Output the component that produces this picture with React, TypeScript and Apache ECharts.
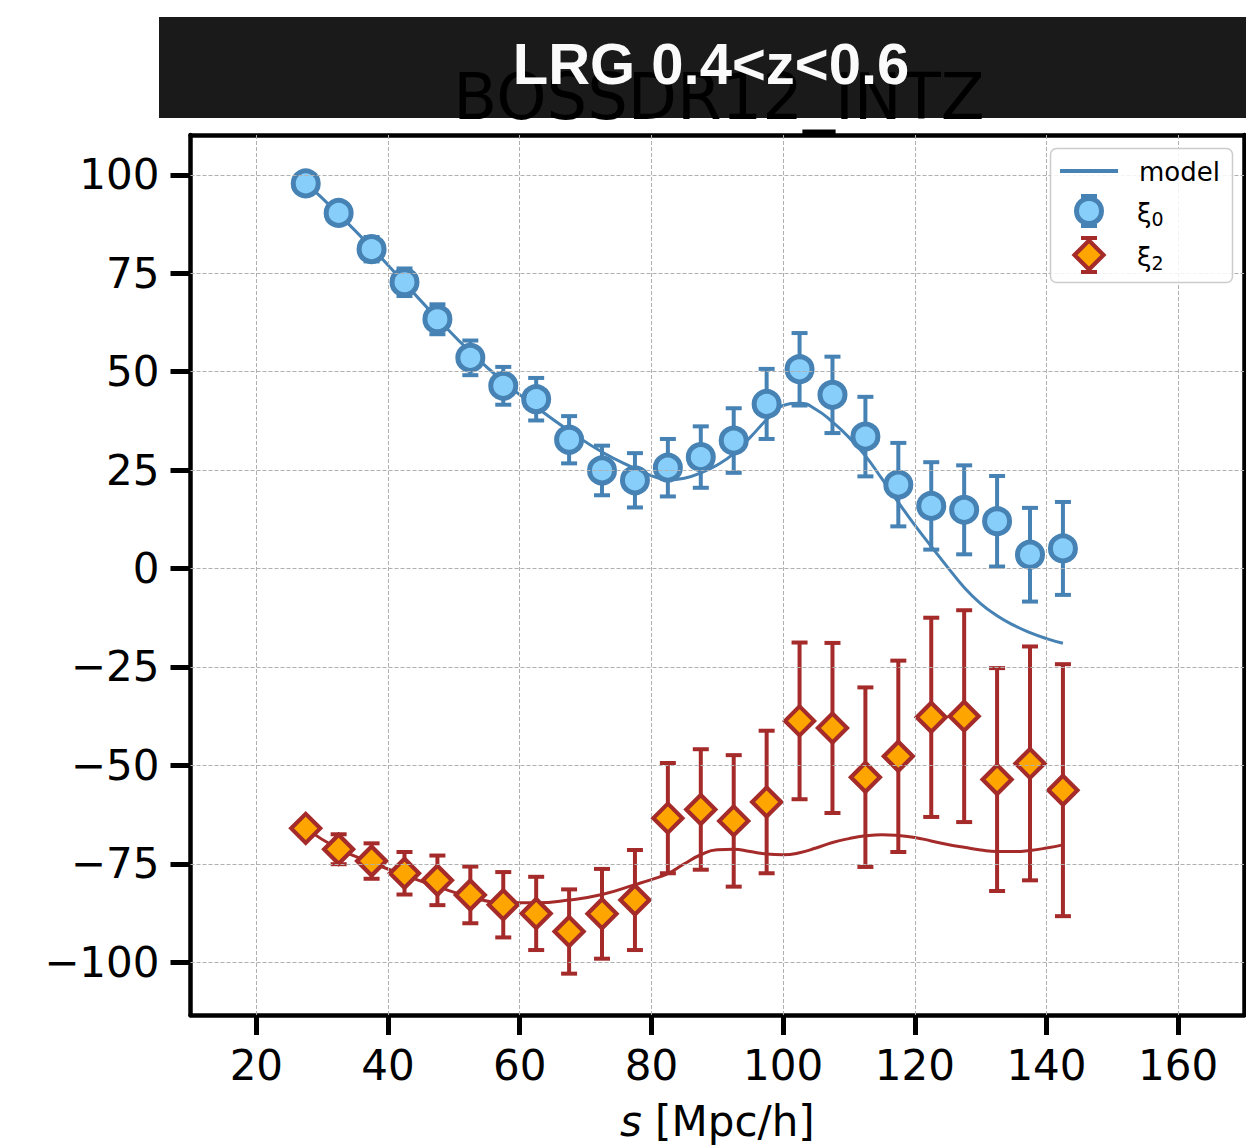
import React, { useEffect, useRef } from "react";
import * as echarts from "echarts";

// ---- data ----
const sVals = [27.5, 32.5, 37.5, 42.5, 47.5, 52.5, 57.5, 62.5, 67.5, 72.5, 77.5, 82.5, 87.5, 92.5, 97.5, 102.5, 107.5, 112.5, 117.5, 122.5, 127.5, 132.5, 137.5, 142.5];
const xi0 = [97.8, 90.3, 81.1, 72.7, 63.3, 53.5, 46.4, 43.0, 32.7, 24.9, 22.4, 25.6, 28.3, 32.5, 41.8, 50.6, 44.1, 33.5, 21.3, 15.9, 14.9, 12.0, 3.5, 5.1];
const xi0Err = [1.5, 2.3, 3.1, 3.5, 3.8, 4.4, 4.8, 5.4, 6.0, 6.3, 6.9, 7.3, 7.8, 8.2, 8.9, 9.2, 9.7, 10.1, 10.6, 11.1, 11.3, 11.5, 11.9, 11.8];
const xi2 = [-66.0, -71.3, -74.3, -77.4, -79.2, -82.9, -85.4, -87.6, -92.2, -87.7, -84.2, -63.4, -61.2, -64.1, -59.3, -38.7, -40.5, -53.0, -47.7, -37.8, -37.5, -53.6, -49.5, -56.3];
const xi2Err = [1.8, 3.8, 4.5, 5.4, 6.3, 7.2, 8.3, 9.3, 10.7, 11.4, 12.7, 14.0, 15.3, 16.7, 18.1, 19.9, 21.6, 22.8, 24.3, 25.3, 26.9, 28.3, 29.7, 32.0];

const model0S = [27.5, 32.5, 37.5, 42.5, 47.5, 52.5, 57.5, 62.5, 67.5, 72.5, 77.5, 80, 82.5, 85, 87.5, 90, 92.5, 95, 97.5, 100, 102.5, 105, 107.5, 110, 112.5, 115, 117.5, 120, 122.5, 125, 127.5, 130, 132.5, 135, 137.5, 140, 142.5];
const model0 = [98.0, 90.0, 81.5, 72.5, 63.5, 55.0, 47.5, 41.0, 35.0, 29.6, 25.4, 23.6, 22.5, 22.9, 24.3, 26.3, 29.2, 33.3, 37.8, 41.4, 42.0, 40.4, 37.2, 33.3, 28.6, 22.8, 16.8, 11.0, 5.6, 0.3, -4.8, -8.9, -12.0, -14.4, -16.3, -17.8, -19.0];
const model2S = [27.5, 32.5, 37.5, 42.5, 47.5, 52.5, 57.5, 62.5, 67.5, 72.5, 77.5, 80, 82.5, 85, 87.5, 90, 92.5, 95, 97.5, 100, 102.5, 105, 107.5, 110, 112.5, 115, 117.5, 120, 122.5, 125, 127.5, 130, 132.5, 135, 137.5, 140, 142.5];
const model2 = [-66.0, -71.2, -74.7, -77.9, -80.8, -83.4, -84.9, -84.9, -84.2, -82.8, -80.3, -79.0, -77.5, -75.0, -72.7, -71.4, -71.3, -71.9, -72.5, -72.7, -72.2, -71.0, -69.6, -68.6, -67.9, -67.6, -67.8, -68.3, -69.2, -70.1, -70.8, -71.5, -71.9, -71.9, -71.6, -71.0, -70.2];

const xTicks = [20, 40, 60, 80, 100, 120, 140, 160];
const yTicks = [-100, -75, -50, -25, 0, 25, 50, 75, 100];

const TITLE = "LRG 0.4<z<0.6";
const SUBTITLE = "BOSSDR12_INTZ";
const X_NAME = "{i|s} [Mpc/h]";

const BLUE = "#4682b4";
const LIGHTBLUE = "#87cefa";
const BROWN = "#a52a2a";
const ORANGE = "#ffa500";
const FONT = "DejaVu Sans";

function errorBarRenderer(color: string) {
  return (params: any, api: any) => {
    const x = api.value(0);
    const y = api.value(1);
    const e = api.value(2);
    const top = api.coord([x, y + e]);
    const bot = api.coord([x, y - e]);
    const hw = 8;
    const st = { stroke: color, lineWidth: 4 };
    return {
      type: "group",
      children: [
        { type: "line", shape: { x1: top[0], y1: top[1], x2: bot[0], y2: bot[1] }, style: st },
        { type: "line", shape: { x1: top[0] - hw, y1: top[1], x2: top[0] + hw, y2: top[1] }, style: st },
        { type: "line", shape: { x1: bot[0] - hw, y1: bot[1], x2: bot[0] + hw, y2: bot[1] }, style: st },
      ],
    };
  };
}

export default function App() {
  const ref = useRef<HTMLDivElement>(null);
  useEffect(() => {
    document.body.style.margin = "0";
    if (!ref.current) return;
    const chart = echarts.init(ref.current, null, { renderer: "svg" });

    const axisLineStyle = { color: "#000", width: 4.5 };
    const fmtY = (v: number) => (v < 0 ? "\u2212" + Math.abs(v) : String(v));

    const legendX = 1089;
    const option: any = {
      animation: false,
      backgroundColor: "#fff",
      grid: { left: 190.5, top: 135, width: 1053.5, height: 882.5, containLabel: false },
      xAxis: [
        {
          type: "value",
          min: 10,
          max: 170,
          position: "bottom",
          axisLine: { show: true, onZero: false, lineStyle: axisLineStyle },
          axisTick: { show: true, customValues: xTicks, length: 20, lineStyle: { color: "#000", width: 5 } },
          axisLabel: { customValues: xTicks, fontSize: 42, fontFamily: FONT, color: "#000", margin: 29 },
          splitLine: { show: false },
          name: X_NAME,
          nameLocation: "middle",
          nameGap: 85,
          nameTextStyle: {
            fontSize: 42,
            fontFamily: FONT,
            color: "#000",
            rich: { i: { fontSize: 42, fontFamily: FONT, fontStyle: "italic", color: "#000" } },
          },
        },
        {
          type: "value",
          min: 10,
          max: 170,
          position: "top",
          axisLine: { show: true, onZero: false, lineStyle: axisLineStyle },
          axisTick: { show: false },
          axisLabel: { show: false },
          splitLine: { show: false },
        },
      ],
      yAxis: [
        {
          type: "value",
          min: -113.4,
          max: 110.1,
          position: "left",
          axisLine: { show: true, onZero: false, lineStyle: axisLineStyle },
          axisTick: { show: true, customValues: yTicks, length: 20, lineStyle: { color: "#000", width: 5 } },
          axisLabel: { customValues: yTicks, fontSize: 42, fontFamily: FONT, color: "#000", margin: 31, formatter: fmtY },
          splitLine: { show: false },
        },
        {
          type: "value",
          min: -113.4,
          max: 110.1,
          position: "right",
          axisLine: { show: true, onZero: false, lineStyle: axisLineStyle },
          axisTick: { show: false },
          axisLabel: { show: false },
          splitLine: { show: false },
        },
      ],
      series: [
        {
          type: "line",
          name: "grid",
          data: [[10, 0]],
          symbol: "none",
          lineStyle: { width: 0, opacity: 0 },
          silent: true,
          z: 1,
          markLine: {
            silent: true,
            symbol: ["none", "none"],
            label: { show: false },
            lineStyle: { color: "#b0b0b0", width: 1, type: [4, 2] },
            data: [
              ...xTicks.map((v) => ({ xAxis: v })),
              ...yTicks.map((v) => ({ yAxis: v })),
            ],
          },
        },
        {
          type: "line",
          name: "model0",
          data: model0S.map((s, i) => [s, model0[i]]),
          showSymbol: false,
          smooth: 0.5,
          lineStyle: { color: BLUE, width: 3 },
          z: 2,
          silent: true,
        },
        {
          type: "line",
          name: "model2",
          data: model2S.map((s, i) => [s, model2[i]]),
          showSymbol: false,
          smooth: 0.5,
          lineStyle: { color: BROWN, width: 3 },
          z: 2,
          silent: true,
        },
        {
          type: "custom",
          name: "xi0err",
          data: sVals.map((s, i) => [s, xi0[i], xi0Err[i]]),
          renderItem: errorBarRenderer(BLUE),
          z: 3,
          silent: true,
        },
        {
          type: "custom",
          name: "xi2err",
          data: sVals.map((s, i) => [s, xi2[i], xi2Err[i]]),
          renderItem: errorBarRenderer(BROWN),
          z: 3,
          silent: true,
        },
        {
          type: "scatter",
          name: "xi0",
          data: sVals.map((s, i) => [s, xi0[i]]),
          symbol: "circle",
          symbolSize: 25,
          itemStyle: { color: LIGHTBLUE, borderColor: BLUE, borderWidth: 5, opacity: 1 },
          z: 4,
          silent: true,
        },
        {
          type: "scatter",
          name: "xi2",
          data: sVals.map((s, i) => [s, xi2[i]]),
          symbol: "diamond",
          symbolSize: 29,
          itemStyle: { color: ORANGE, borderColor: BROWN, borderWidth: 4.2, opacity: 1 },
          z: 4,
          silent: true,
        },
      ],
      graphic: [
        { type: "rect", z: 10, shape: { x: 159, y: 17, width: 1100, height: 101 }, style: { fill: "#1a1a1a" } },
        {
          type: "text",
          z: 11,
          x: 719,
          y: 97,
          style: { text: SUBTITLE, fontSize: 64, fontFamily: FONT, fill: "#000", align: "center", verticalAlign: "middle" },
        },
        {
          type: "text",
          z: 12,
          x: 711,
          y: 63,
          style: {
            text: TITLE,
            fontSize: 58,
            fontWeight: "bold",
            fontFamily: "Liberation Sans",
            fill: "#fafafa",
            align: "center",
            verticalAlign: "middle",
          },
        },
        // legend
        {
          type: "rect",
          z: 20,
          shape: { x: 1050.5, y: 148.5, width: 182, height: 134, r: 6 },
          style: { fill: "rgba(255,255,255,0.85)", stroke: "#cccccc", lineWidth: 1.5 },
        },
        { type: "line", z: 21, shape: { x1: 1060, y1: 171, x2: 1118, y2: 171 }, style: { stroke: BLUE, lineWidth: 4 } },
        { type: "line", z: 21, shape: { x1: legendX, y1: 196, x2: legendX, y2: 226 }, style: { stroke: BLUE, lineWidth: 4 } },
        { type: "line", z: 21, shape: { x1: legendX - 8, y1: 196, x2: legendX + 8, y2: 196 }, style: { stroke: BLUE, lineWidth: 4 } },
        { type: "line", z: 21, shape: { x1: legendX - 8, y1: 226, x2: legendX + 8, y2: 226 }, style: { stroke: BLUE, lineWidth: 4 } },
        { type: "circle", z: 22, shape: { cx: legendX, cy: 211, r: 12.5 }, style: { fill: LIGHTBLUE, stroke: BLUE, lineWidth: 5 } },
        { type: "line", z: 21, shape: { x1: legendX, y1: 238, x2: legendX, y2: 272 }, style: { stroke: BROWN, lineWidth: 4 } },
        { type: "line", z: 21, shape: { x1: legendX - 8, y1: 238, x2: legendX + 8, y2: 238 }, style: { stroke: BROWN, lineWidth: 4 } },
        { type: "line", z: 21, shape: { x1: legendX - 8, y1: 272, x2: legendX + 8, y2: 272 }, style: { stroke: BROWN, lineWidth: 4 } },
        {
          type: "polygon",
          z: 22,
          shape: { points: [[legendX, 240.5], [legendX + 14.5, 255], [legendX, 269.5], [legendX - 14.5, 255]] },
          style: { fill: ORANGE, stroke: BROWN, lineWidth: 4.2 },
        },
        {
          type: "text",
          z: 22,
          x: 1139,
          y: 172,
          style: { text: "model", fontSize: 26, fontFamily: FONT, fill: "#000", align: "left", verticalAlign: "middle" },
        },
        {
          type: "text",
          z: 22,
          x: 1137,
          y: 213,
          style: {
            text: "{a|ξ}{b|0}",
            fontSize: 26,
            fontFamily: FONT,
            fill: "#000",
            align: "left",
            verticalAlign: "middle",
            rich: {
              a: { fontSize: 26, fontFamily: FONT, fill: "#000" },
              b: { fontSize: 19, fontFamily: FONT, fill: "#000", padding: [12, 0, 0, 0] },
            },
          },
        },
        {
          type: "text",
          z: 22,
          x: 1137,
          y: 257,
          style: {
            text: "{a|ξ}{b|2}",
            fontSize: 26,
            fontFamily: FONT,
            fill: "#000",
            align: "left",
            verticalAlign: "middle",
            rich: {
              a: { fontSize: 26, fontFamily: FONT, fill: "#000" },
              b: { fontSize: 19, fontFamily: FONT, fill: "#000", padding: [12, 0, 0, 0] },
            },
          },
        },
      ],
    };

    chart.setOption(option);
    return () => chart.dispose();
  }, []);

  return <div ref={ref} style={{ width: 1246, height: 1147 }} />;
}
